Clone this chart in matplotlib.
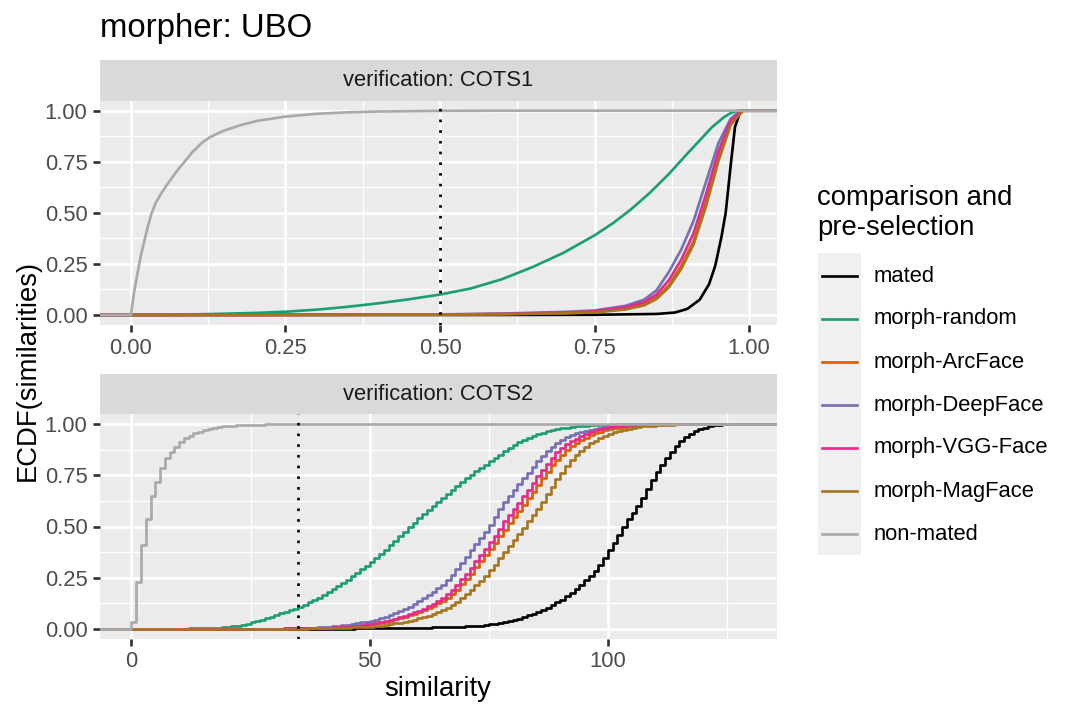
import numpy as np
import matplotlib
matplotlib.use("Agg")
import matplotlib.pyplot as plt
from matplotlib.lines import Line2D
from matplotlib.patches import Rectangle
from matplotlib.ticker import FixedLocator, FuncFormatter

plt.rcParams['font.family'] = ['Liberation Sans', 'DejaVu Sans']

W, H = 1076, 718
DPI = 180

labels = ['mated', 'morph-random', 'morph-ArcFace', 'morph-DeepFace',
          'morph-VGG-Face', 'morph-MagFace', 'non-mated']
colors = ['#000000', '#1B9E77', '#D95F02', '#7570B3', '#E7298A', '#A6761D', '#A9A9A9']

threshold_cots1 = 0.5
threshold_cots2 = 35

# ---- COTS1: similarity in [0, 1], (x, ECDF)
c1_mated_x = [0.0, 0.6, 0.75, 0.85, 0.88, 0.9, 0.92, 0.935, 0.945, 0.955, 0.962, 0.97, 0.977, 0.985, 0.99]
c1_mated_y = [0.0, 0.0, 0.001, 0.005, 0.012, 0.03, 0.075, 0.15, 0.24, 0.38, 0.50, 0.73, 0.92, 0.99, 1.0]

c1_random_x = [0.0, 0.05, 0.1, 0.15, 0.2, 0.25, 0.3, 0.35, 0.4, 0.45, 0.5, 0.55, 0.6, 0.65,
               0.7, 0.75, 0.78, 0.81, 0.84, 0.87, 0.9, 0.92, 0.94, 0.96, 0.97, 0.98]
c1_random_y = [0.0, 0.001, 0.003, 0.006, 0.01, 0.016, 0.026, 0.04, 0.057, 0.077, 0.10, 0.13,
               0.175, 0.235, 0.305, 0.39, 0.45, 0.52, 0.60, 0.69, 0.79, 0.855, 0.92, 0.97,
               0.988, 1.0]

c1_arcface_x = [0.0, 0.3, 0.5, 0.6, 0.7, 0.75, 0.8, 0.83, 0.85, 0.87, 0.89, 0.91, 0.93, 0.95, 0.97, 0.988]
c1_arcface_y = [0.0, 0.001, 0.002, 0.004, 0.009, 0.014, 0.03, 0.052, 0.085, 0.145, 0.24, 0.36,
                0.55, 0.77, 0.94, 1.0]

c1_deepface_x = [0.0, 0.3, 0.5, 0.6, 0.7, 0.75, 0.8, 0.83, 0.85, 0.87, 0.89, 0.91, 0.93, 0.95, 0.97, 0.985]
c1_deepface_y = [0.0, 0.001, 0.003, 0.007, 0.015, 0.022, 0.045, 0.075, 0.12, 0.21, 0.32, 0.46,
                 0.65, 0.84, 0.96, 1.0]

c1_vgg_x = [0.0, 0.3, 0.5, 0.6, 0.7, 0.75, 0.8, 0.83, 0.85, 0.87, 0.89, 0.91, 0.93, 0.95, 0.97, 0.987]
c1_vgg_y = [0.0, 0.001, 0.002, 0.005, 0.011, 0.018, 0.038, 0.063, 0.10, 0.17, 0.27, 0.40,
            0.59, 0.80, 0.95, 1.0]

c1_magface_x = [0.0, 0.3, 0.5, 0.6, 0.7, 0.75, 0.8, 0.83, 0.85, 0.87, 0.89, 0.91, 0.93, 0.95, 0.97, 0.99]
c1_magface_y = [0.0, 0.001, 0.002, 0.004, 0.008, 0.012, 0.027, 0.047, 0.078, 0.135, 0.225, 0.345,
                0.53, 0.75, 0.93, 1.0]

c1_nonmated_x = [0.0, 0.005, 0.0106, 0.016, 0.022, 0.028, 0.033, 0.04, 0.05, 0.06, 0.077, 0.09,
                 0.0997, 0.115, 0.1275, 0.15, 0.178, 0.205, 0.25, 0.30, 0.35, 0.40, 0.50, 0.60]
c1_nonmated_y = [0.0, 0.11, 0.203, 0.29, 0.366, 0.44, 0.494, 0.548, 0.60, 0.645, 0.715, 0.762,
                 0.798, 0.843, 0.87, 0.902, 0.93, 0.951, 0.971, 0.985, 0.992, 0.996, 0.999, 1.0]

# ---- COTS2: integer similarity scores, ECDF value at each score from the start score
c2_mated_start = 40
c2_mated = [0.0005, 0.0006, 0.0007, 0.0008, 0.0009, 0.001, 0.0012, 0.0014, 0.0016, 0.0018,
            0.002, 0.0022, 0.0024, 0.0026, 0.0028, 0.003, 0.0033, 0.0037, 0.0041, 0.0045,
            0.005, 0.0055, 0.006, 0.0066, 0.0072, 0.0079, 0.0086, 0.0094, 0.0102, 0.011,
            0.012, 0.013, 0.0145, 0.016, 0.018, 0.021, 0.024, 0.028, 0.032, 0.037,
            0.043, 0.050, 0.057, 0.065, 0.074, 0.083, 0.093, 0.104, 0.116, 0.129,
            0.143, 0.158, 0.176, 0.196, 0.216, 0.237, 0.258, 0.283, 0.312, 0.346,
            0.383, 0.420, 0.460, 0.500, 0.535, 0.568, 0.602, 0.640, 0.682, 0.726,
            0.768, 0.802, 0.835, 0.866, 0.893, 0.917, 0.938, 0.954, 0.966, 0.976,
            0.984, 0.990, 0.994, 0.997, 0.999, 1.0]

c2_random_start = 8
c2_random = [0.0005, 0.0008, 0.001, 0.0013, 0.0017, 0.0021, 0.0026, 0.003, 0.004, 0.005,
             0.006, 0.008, 0.010, 0.013, 0.016, 0.020, 0.025, 0.031, 0.037, 0.044,
             0.051, 0.059, 0.067, 0.075, 0.083, 0.091, 0.099, 0.108, 0.118, 0.129,
             0.140, 0.152, 0.165, 0.179, 0.193, 0.208, 0.224, 0.240, 0.256, 0.273,
             0.290, 0.307, 0.325, 0.345, 0.366, 0.387, 0.408, 0.430, 0.452, 0.474,
             0.496, 0.518, 0.540, 0.560, 0.580, 0.600, 0.620, 0.640, 0.659, 0.678,
             0.697, 0.716, 0.735, 0.752, 0.769, 0.786, 0.803, 0.820, 0.836, 0.852,
             0.868, 0.884, 0.900, 0.911, 0.922, 0.933, 0.943, 0.953, 0.959, 0.965,
             0.970, 0.975, 0.980, 0.983, 0.986, 0.989, 0.991, 0.993, 0.994, 0.995,
             0.996, 0.997, 0.998, 0.9985, 0.999, 0.9995, 1.0]

c2_arcface_start = 28
c2_arcface = [0.0004, 0.0006, 0.0008, 0.001, 0.0012, 0.0014, 0.0016, 0.0018, 0.0022, 0.0027,
              0.0033, 0.004, 0.0047, 0.0055, 0.0065, 0.0075, 0.0088, 0.010, 0.012, 0.014,
              0.016, 0.019, 0.022, 0.026, 0.030, 0.035, 0.040, 0.046, 0.052, 0.059,
              0.066, 0.074, 0.082, 0.091, 0.101, 0.112, 0.124, 0.137, 0.152, 0.170,
              0.192, 0.217, 0.243, 0.270, 0.300, 0.330, 0.360, 0.390, 0.420, 0.452,
              0.484, 0.515, 0.546, 0.576, 0.607, 0.638, 0.670, 0.702, 0.735, 0.768,
              0.800, 0.827, 0.851, 0.872, 0.892, 0.908, 0.922, 0.935, 0.946, 0.955,
              0.963, 0.970, 0.976, 0.980, 0.984, 0.987, 0.990, 0.992, 0.994, 0.995,
              0.996, 0.997, 0.998, 0.9985, 0.999, 0.9995, 1.0]

c2_deepface_start = 28
c2_deepface = [0.0005, 0.0008, 0.001, 0.0013, 0.0016, 0.002, 0.0025, 0.003, 0.004, 0.005,
               0.006, 0.007, 0.008, 0.010, 0.012, 0.014, 0.017, 0.020, 0.023, 0.027,
               0.031, 0.035, 0.040, 0.045, 0.051, 0.058, 0.066, 0.075, 0.085, 0.096,
               0.108, 0.121, 0.135, 0.149, 0.164, 0.180, 0.197, 0.215, 0.237, 0.262,
               0.290, 0.320, 0.352, 0.383, 0.414, 0.445, 0.475, 0.505, 0.545, 0.585,
               0.620, 0.650, 0.680, 0.708, 0.735, 0.763, 0.792, 0.820, 0.845, 0.868,
               0.890, 0.908, 0.925, 0.937, 0.948, 0.957, 0.963, 0.968, 0.973, 0.978,
               0.983, 0.987, 0.990, 0.992, 0.994, 0.996, 0.997, 0.998, 0.9985, 0.999,
               0.9995, 1.0]

c2_vgg_start = 28
c2_vgg = [0.0005, 0.0007, 0.001, 0.0012, 0.0014, 0.0016, 0.0018, 0.002, 0.0025, 0.003,
          0.0037, 0.0044, 0.005, 0.006, 0.007, 0.008, 0.0095, 0.011, 0.013, 0.015,
          0.018, 0.021, 0.024, 0.028, 0.033, 0.038, 0.044, 0.050, 0.057, 0.064,
          0.072, 0.080, 0.089, 0.099, 0.110, 0.122, 0.135, 0.150, 0.168, 0.190,
          0.214, 0.241, 0.269, 0.299, 0.329, 0.359, 0.390, 0.422, 0.455, 0.490,
          0.525, 0.556, 0.586, 0.616, 0.647, 0.680, 0.713, 0.745, 0.778, 0.808,
          0.837, 0.862, 0.884, 0.903, 0.918, 0.930, 0.942, 0.953, 0.963, 0.970,
          0.977, 0.982, 0.986, 0.989, 0.991, 0.993, 0.995, 0.996, 0.997, 0.998,
          0.999, 1.0]

c2_magface_start = 30
c2_magface = [0.0004, 0.0005, 0.0006, 0.0007, 0.0008, 0.001, 0.0012, 0.0014, 0.0017, 0.002,
              0.0024, 0.0029, 0.0035, 0.0042, 0.005, 0.006, 0.007, 0.0078, 0.0087, 0.0098,
              0.011, 0.013, 0.016, 0.019, 0.022, 0.026, 0.030, 0.035, 0.040, 0.045,
              0.051, 0.057, 0.064, 0.072, 0.081, 0.091, 0.103, 0.117, 0.133, 0.150,
              0.170, 0.190, 0.212, 0.236, 0.260, 0.285, 0.314, 0.344, 0.373, 0.403,
              0.433, 0.463, 0.494, 0.525, 0.556, 0.587, 0.622, 0.658, 0.695, 0.732,
              0.764, 0.794, 0.824, 0.849, 0.870, 0.889, 0.906, 0.919, 0.931, 0.942,
              0.952, 0.960, 0.967, 0.972, 0.977, 0.982, 0.986, 0.989, 0.991, 0.993,
              0.995, 0.996, 0.997, 0.998, 0.999, 0.9995, 1.0]

c2_nonmated_start = 0
c2_nonmated = [0.033, 0.229, 0.412, 0.539, 0.650, 0.719, 0.784, 0.833, 0.863, 0.890,
               0.912, 0.931, 0.944, 0.956, 0.964, 0.972, 0.977, 0.982, 0.986, 0.989,
               0.991, 0.992, 0.994, 0.995, 0.996, 0.997, 0.998, 0.998, 0.999, 0.999,
               0.9995, 0.9995, 1.0]

cots1_series = [(c1_mated_x, c1_mated_y), (c1_random_x, c1_random_y),
                (c1_arcface_x, c1_arcface_y), (c1_deepface_x, c1_deepface_y),
                (c1_vgg_x, c1_vgg_y), (c1_magface_x, c1_magface_y),
                (c1_nonmated_x, c1_nonmated_y)]
cots2_series = [(c2_mated_start, c2_mated), (c2_random_start, c2_random),
                (c2_arcface_start, c2_arcface), (c2_deepface_start, c2_deepface),
                (c2_vgg_start, c2_vgg), (c2_magface_start, c2_magface),
                (c2_nonmated_start, c2_nonmated)]

LW = 1.07
BG = '#EBEBEB'


def px_box(x0, y0, x1, y1):
    # pixel box (top-left origin) -> figure fraction rect
    return [x0 / W, 1 - y1 / H, (x1 - x0) / W, (y1 - y0) / H]


def style_panel(ax, xlim, xmajor, xminor, fmt):
    ax.set_facecolor(BG)
    ax.set_xlim(*xlim)
    ax.set_ylim(-0.05, 1.05)
    ax.xaxis.set_major_locator(FixedLocator(xmajor))
    ax.xaxis.set_minor_locator(FixedLocator(xminor))
    ax.yaxis.set_major_locator(FixedLocator([0, 0.25, 0.5, 0.75, 1.0]))
    ax.yaxis.set_minor_locator(FixedLocator([0.125, 0.375, 0.625, 0.875]))
    ax.xaxis.set_major_formatter(FuncFormatter(fmt))
    ax.yaxis.set_major_formatter(FuncFormatter(lambda v, p: f'{v:.2f}'))
    ax.grid(which='major', color='white', linewidth=1.07)
    ax.grid(which='minor', color='white', linewidth=0.53)
    ax.set_axisbelow(True)
    for s in ax.spines.values():
        s.set_visible(False)
    ax.tick_params(which='major', length=2.75, width=1.07, color='#333333',
                   labelsize=8.8, labelcolor='#4D4D4D', pad=2.2)
    ax.tick_params(which='minor', length=0)


def add_strip(box, text):
    sax = fig.add_axes(px_box(*box))
    sax.set_facecolor('#D9D9D9')
    sax.set_xticks([])
    sax.set_yticks([])
    for s in sax.spines.values():
        s.set_visible(False)
    sax.text(0.5, 0.5, text, ha='center', va='center', fontsize=8.8, color='#1A1A1A',
             transform=sax.transAxes)


fig = plt.figure(figsize=(W / DPI, H / DPI), dpi=DPI)

# top panel: COTS1
ax1 = fig.add_axes(px_box(100, 100.5, 777, 325.2))
xl1 = (-0.05, 1.045)
style_panel(ax1, xl1, [0, 0.25, 0.5, 0.75, 1.0], [0.125, 0.375, 0.625, 0.875],
            lambda v, p: f'{v:.2f}')
for (xs, ys), c in zip(cots1_series, colors):
    x = [xl1[0]] + list(xs) + [xl1[1]]
    y = [0.0] + list(ys) + [1.0]
    ax1.plot(x, y, color=c, lw=LW, solid_joinstyle='round')
ax1.axvline(threshold_cots1, color='black', lw=1.07, linestyle=(0, (1, 3)))
add_strip((100, 60, 777, 100.5), 'verification: COTS1')

# bottom panel: COTS2
ax2 = fig.add_axes(px_box(100, 414, 777, 639))
xl2 = (-6.6, 135.5)
style_panel(ax2, xl2, [0, 50, 100], [25, 75, 125], lambda v, p: f'{v:.0f}')
for (start, vals), c in zip(cots2_series, colors):
    xs = np.arange(start, start + len(vals))
    x = np.concatenate([[xl2[0]], xs, [xl2[1]]])
    y = np.concatenate([[0.0], vals, [1.0]])
    ax2.plot(x, y, color=c, lw=LW, drawstyle='steps-post')
ax2.axvline(threshold_cots2, color='black', lw=1.07, linestyle=(0, (1, 3)))
add_strip((100, 374, 777, 414), 'verification: COTS2')

# titles
fig.text(100 / W, 1 - 28 / H, 'morpher: UBO', fontsize=13.2, ha='left', va='center',
         color='black')
fig.text(438 / W, 1 - 689 / H, 'similarity', fontsize=11, ha='center', va='center')
fig.text(28 / W, 1 - 370 / H, 'ECDF(similarities)', fontsize=11, rotation=90,
         ha='center', va='center')

# legend drawn by hand in figure pixels
fig.text(817 / W, 1 - 198 / H, 'comparison and', fontsize=11, ha='left', va='center')
fig.text(817 / W, 1 - 228 / H, 'pre-selection', fontsize=11, ha='left', va='center')
fig.patches.append(Rectangle((818 / W, 1 - 555 / H), 43 / W, (555 - 253) / H,
                             transform=fig.transFigure, facecolor='#F0F0F0',
                             edgecolor='none'))
for i, (lab, c) in enumerate(zip(labels, colors)):
    yy = 1 - (276 + i * 43) / H
    fig.lines.append(Line2D([822 / W, 857 / W], [yy, yy], transform=fig.transFigure,
                            color=c, lw=LW))
    fig.text(874 / W, yy, lab, fontsize=8.8, ha='left', va='center')

fig.savefig('out.png', dpi=DPI)
